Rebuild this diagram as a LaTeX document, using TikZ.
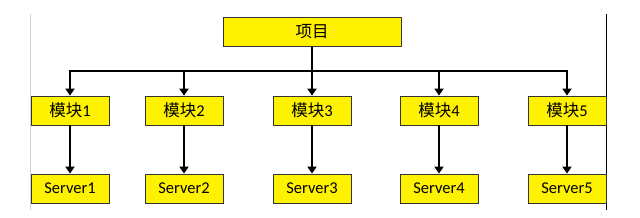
\documentclass[tikz,border=0pt]{standalone}
\usepackage{fontspec}
\setmainfont{Carlito}
\newfontfamily\cjk{Noto Sans CJK SC}
\usetikzlibrary{arrows.meta}
\begin{document}
\begin{tikzpicture}[x=1pt,y=-1pt,
  box/.style={draw=black!80, fill=yellow, line width=0.8pt, minimum height=29pt, inner sep=0pt, font=\fontsize{16.5}{16.5}\selectfont},
  modbox/.style={box, minimum width=78pt},
  conn/.style={line width=2.8pt, draw=black, -{Triangle[length=7pt,width=9pt]}},
  bar/.style={line width=2.8pt, draw=black}]
\useasboundingbox (0,0) rectangle (640,217);
\fill[white] (0,0) rectangle (640,217);
\draw[green!50!black!25, line width=0.8pt] (30,14) -- (30,210);
\draw[black, line width=1pt] (606.5,14) -- (606.5,210);
\node[box, minimum width=178pt] (top) at (312,32) {\cjk 项目};
\foreach \i/\x in {1/70, 2/184, 3/312, 4/439, 5/567} {
  \node[modbox] (m\i) at (\x,110.5) {{\cjk 模块}\i};
  \node[modbox] (s\i) at (\x,188.5) {Server\i};
  \coordinate (b\i) at (\x,71);
  \draw[conn] (m\i) -- (s\i);
}
\draw[bar] (top) -- (b3);
\draw[bar, line join=round] ([xshift=-1.4pt]b1) -- ([xshift=1.4pt]b5);
\foreach \i in {1,...,5} { \draw[conn] (b\i) -- (m\i); }
\end{tikzpicture}
\end{document}
